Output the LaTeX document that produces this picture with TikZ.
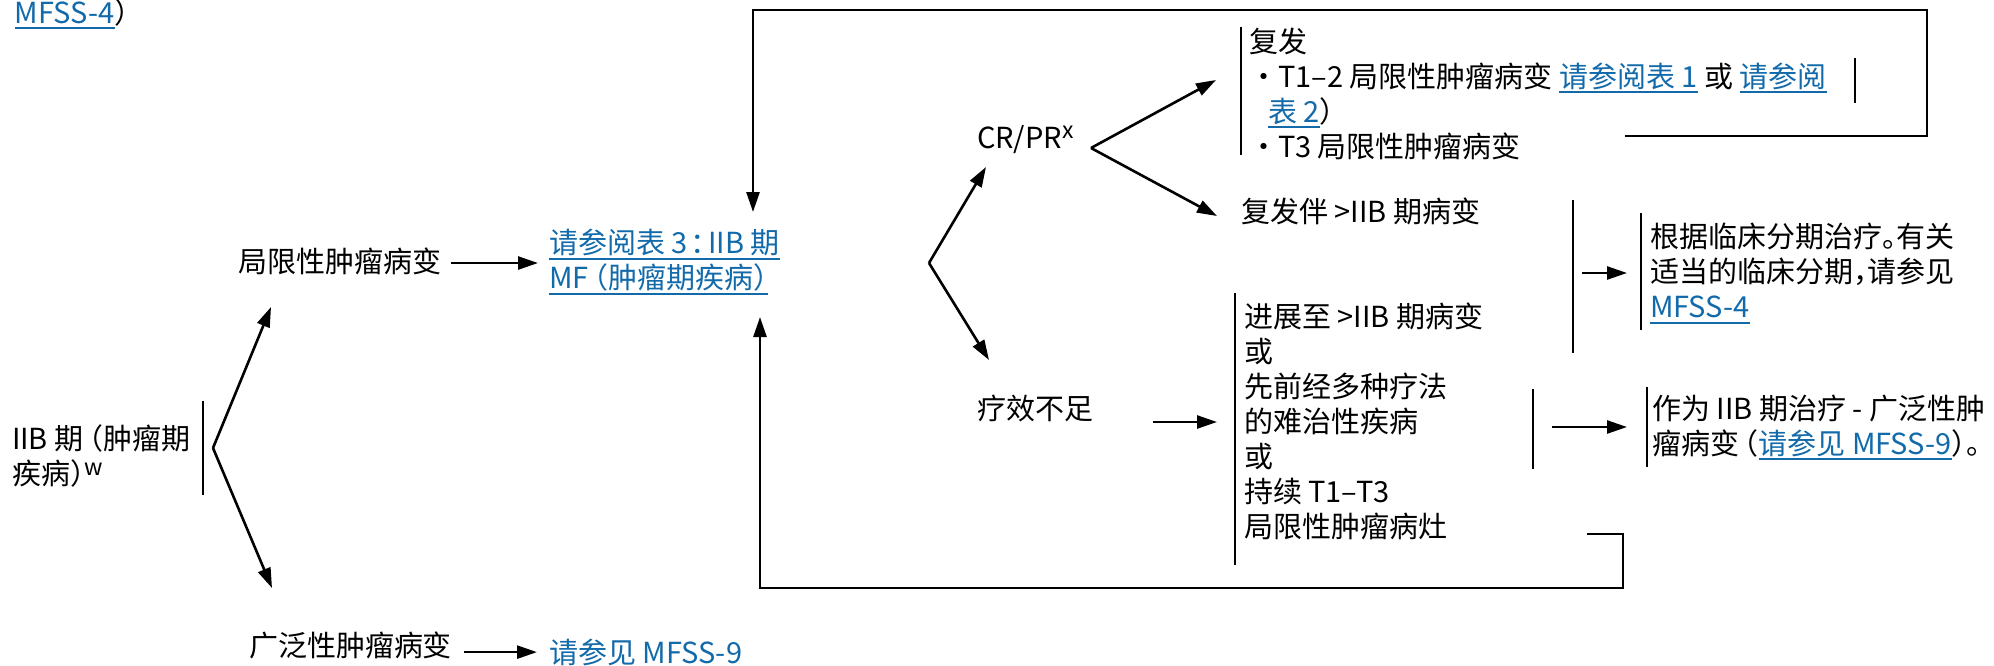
\documentclass[tikz,border=0pt]{standalone}
\usepackage{fontspec}
\setmainfont{Noto Sans CJK SC}
\usetikzlibrary{arrows.meta}
\definecolor{lnkblue}{RGB}{18,106,170}
\newsavebox{\lnkbox}
\newcommand{\lnk}[1]{{\color{lnkblue}\sbox{\lnkbox}{#1}\rlap{\rule[-3pt]{\wd\lnkbox}{1pt}}\usebox{\lnkbox}}}
\newcommand{\hw}[1]{{\addfontfeatures{RawFeature=+halt}#1}}
\newcommand{\lpar}{\hspace{2.5pt}\hw{（}}
\newcommand{\supr}[1]{\raisebox{4.6pt}{\fontsize{11.5pt}{11.5pt}\selectfont #1}}
\begin{document}
\begin{tikzpicture}[x=0.5pt,y=-0.5pt,
  txt/.style={inner sep=0pt, outer sep=0pt, anchor=north west, align=left,
              font=\fontsize{14.5pt}{17.5pt}\selectfont},
  arr/.style={line width=1.3pt, -{Triangle[length=10pt,width=6.5pt]}},
  bar/.style={line width=1.1pt}]
\useasboundingbox (0,0) rectangle (1994,665);

% ---------- text nodes ----------
\node[txt, anchor=base west] (topref) at (15,23) {\lnk{MFSS-4}\hw{）}};
\node[txt] (iib) at (12,425) {IIB 期\lpar 肿瘤期\\疾病\hw{）}\supr{w}};
\node[txt] (local) at (238,248) {局限性肿瘤病变};
\node[txt] (ref3) at (549,229) {\lnk{请参阅表 3\hspace{1.5pt}\hw{：}\hspace{1.5pt}IIB 期}\\\lnk{MF\lpar 肿瘤期疾病\hw{）}}};
\node[txt] (wide) at (249,632) {广泛性肿瘤病变};
\node[txt, text=lnkblue] (ref9) at (549,639) {请参见 MFSS-9};
\node[txt, anchor=base west] (crpr) at (977,148) {CR/PR\supr{x}};
\node[txt] (insuff) at (977,395) {疗效不足};
\node[txt] (relapse) at (1249,28) {复发\\・T1–2 局限性肿瘤病变 \lnk{请参阅表 1} 或 \lnk{请参阅}\\\hspace*{9.5pt}\lnk{表 2}\hw{）}\\・T3 局限性肿瘤病变};
\node[txt] (relapse2) at (1241,198) {复发伴 >IIB 期病变};
\node[txt] (prog) at (1244,303) {进展至 >IIB 期病变\\或\\先前经多种疗法\\的难治性疾病\\或\\持续 T1–T3\\局限性肿瘤病灶};
\node[txt] (clin) at (1650,223) {根据临床分期治疗\hw{。}有关\\适当的临床分期\hw{，}请参见\\\lnk{MFSS-4}};
\node[txt] (wide2) at (1652,395) {作为 IIB 期治疗 - 广泛性肿\\瘤病变\lpar\lnk{请参见 MFSS-9}\hw{）}。};

% ---------- connector points ----------
\coordinate (v1) at (213,448);
\coordinate (v1a) at (271,307);
\coordinate (v1b) at (272,588);
\coordinate (v2) at (929,263);
\coordinate (v2a) at (986,167);
\coordinate (v2b) at (989,360);
\coordinate (v3) at (1091,148);
\coordinate (v3a) at (1216,80);
\coordinate (v3b) at (1217,216);
\coordinate (ia) at (1153,422);
\coordinate (ib) at (1217,422);
\coordinate (ca) at (1582,273);
\coordinate (cb) at (1627,273);
\coordinate (wa) at (1552,427);
\coordinate (wb) at (1627,427);
\coordinate (tl1) at (1625,136);
\coordinate (tl2) at (1927,136);
\coordinate (tl3) at (1927,10);
\coordinate (tl4) at (753,10);
\coordinate (tl5) at (753,212);
\coordinate (bl1) at (1587,534);
\coordinate (bl2) at (1623,534);
\coordinate (bl3) at (1623,588);
\coordinate (bl4) at (760,588);
\coordinate (bl5) at (760,317);

% ---------- connectors ----------
\draw[arr] (v1) -- (v1a);
\draw[arr] (v1) -- (v1b);
\draw[arr, shorten <=5pt, shorten >=5.5pt] ([yshift=-0.75pt]local.east) -- ([yshift=-0.75pt]local.east -| ref3.west);
\draw[arr, shorten <=6pt, shorten >=6pt] ([yshift=-3.25pt]wide.east) -- ([yshift=-3.25pt]wide.east -| ref9.west);
\draw[arr] (v2) -- (v2a);
\draw[arr] (v2) -- (v2b);
\draw[arr] (v3) -- (v3a);
\draw[arr] (v3) -- (v3b);
\draw[arr] (ia) -- (ib);
\draw[arr] (ca) -- (cb);
\draw[arr] (wa) -- (wb);
\draw[arr, line join=miter] (tl1) -- (tl2) -- (tl3) -- (tl4) -- (tl5);
\draw[arr, line join=miter] (bl1) -- (bl2) -- (bl3) -- (bl4) -- (bl5);

% ---------- bracket bars ----------
\draw[bar] (203,401) -- (203,495);
\draw[bar] (1241,27) -- (1241,155);
\draw[bar] (1855,58) -- (1855,103);
\draw[bar] (1235,293) -- (1235,565);
\draw[bar] (1573,200) -- (1573,353);
\draw[bar] (1641,213) -- (1641,330);
\draw[bar] (1533,389) -- (1533,469);
\draw[bar] (1647,387) -- (1647,467);
\end{tikzpicture}
\end{document}
